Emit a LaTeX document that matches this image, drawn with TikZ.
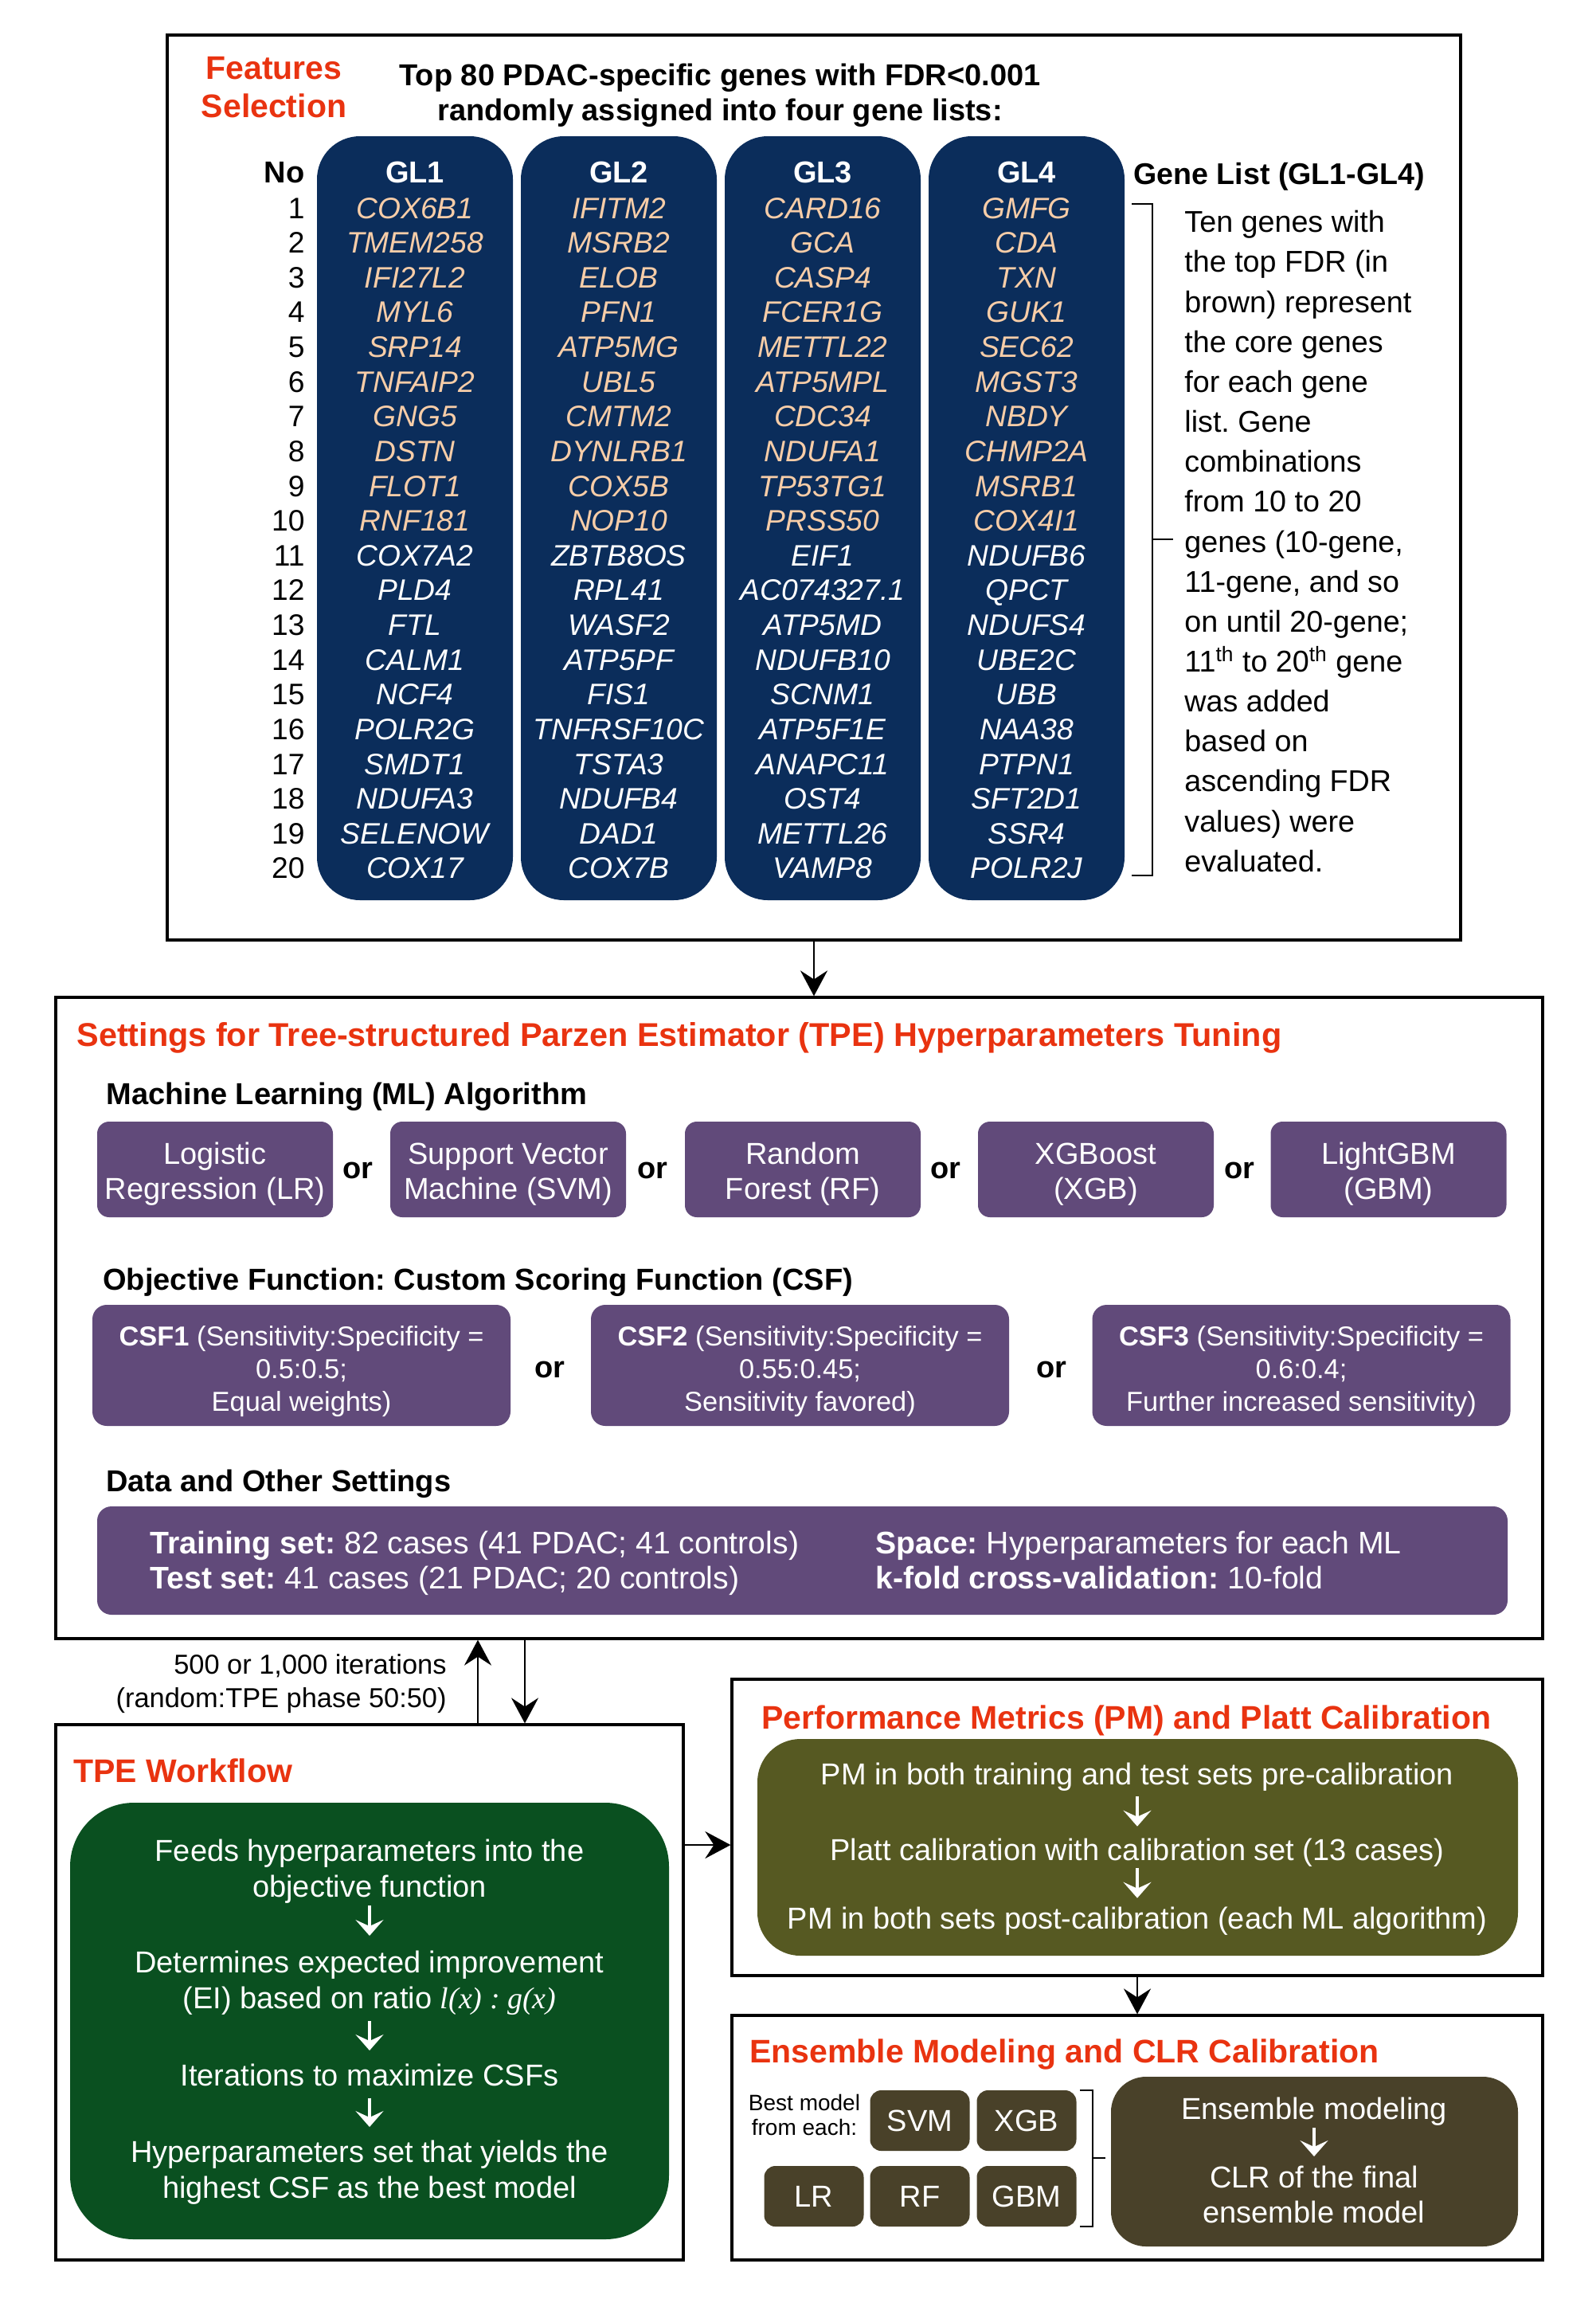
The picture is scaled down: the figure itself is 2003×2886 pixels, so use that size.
\documentclass[tikz,border=0pt]{standalone}
\usepackage{fontspec}
\setmainfont{Liberation Sans}
\newfontfamily\timesfont{Liberation Serif}
\usetikzlibrary{arrows.meta}

\newcommand{\setfs}[2]{\fontsize{#1}{#2}\selectfont}
% invisible struts that lower the text block inside the purple boxes
\newcommand{\mlstrut}{\rule{0pt}{19.4pt}}
\newcommand{\csfstrut}{\rule{0pt}{19.9pt}}

\definecolor{colnavy}{RGB}{11,45,91}
\definecolor{corepeach}{RGB}{247,205,168}
\definecolor{titlered}{RGB}{233,51,16}
\definecolor{mlpurple}{RGB}{97,74,122}
\definecolor{tpegreen}{RGB}{10,80,32}
\definecolor{pmolive}{RGB}{86,89,34}
\definecolor{ensbrown}{RGB}{73,65,41}

\tikzset{
  frame/.style={draw=black, line width=1.6pt, inner sep=0pt},
  conn/.style={draw=black, line width=1.4pt, -{Stealth[length=16pt,width=17pt,inset=5.5pt]}},
  wconn/.style={draw=white, line width=2pt, -{Stealth[length=10pt,width=17.5pt,inset=4pt]}},
  bracket/.style={draw=black, line width=1.3pt},
  redtitle/.style={text=titlered, font=\bfseries\setfs{20.5}{24}, inner sep=0pt},
  heading/.style={text=black, font=\bfseries\setfs{19}{22}, inner sep=0pt, anchor=base west},
  genecol/.style={fill=colnavy, rounded corners=27pt, minimum width=123pt, minimum height=479.5pt, inner sep=0pt},
  gene/.style={font=\itshape\setfs{18.6}{20}, inner sep=0pt, anchor=base},
  glhead/.style={text=white, font=\bfseries\setfs{19}{22}, inner sep=0pt, anchor=base},
  rownum/.style={font=\setfs{18.6}{20}, inner sep=0pt, anchor=base east},
  mlbox/.style={fill=mlpurple, rounded corners=7.5pt, minimum width=148pt, minimum height=60pt, text=white, align=center, font=\setfs{19}{22}, inner sep=0pt},
  orlabel/.style={font=\bfseries\setfs{19}{22}, inner sep=0pt},
  csfbox/.style={fill=mlpurple, rounded corners=9pt, minimum width=262.5pt, minimum height=76pt, text=white, align=center, font=\setfs{17.2}{20.5}, inner sep=0pt},
  databox/.style={fill=mlpurple, rounded corners=9pt, minimum width=885.5pt, minimum height=68pt, inner sep=0pt},
  datatext/.style={text=white, font=\setfs{19.6}{22}, inner sep=0pt, anchor=base west},
  flowtext/.style={text=white, align=center, font=\setfs{19}{22.5}, inner sep=0pt},
  smallbox/.style={fill=ensbrown, rounded corners=7pt, minimum width=62.5pt, minimum height=38pt, text=white, font=\setfs{19}{22}, inner sep=0pt},
}

% one column of twenty genes; the first ten (core genes) in peach
\newcommand{\genecolumn}[3]{%
  \foreach \g [count=\i] in {#3} {%
    \ifnum\i<11 \def\gc{corepeach}\else\def\gc{white}\fi
    \node[gene, text=\gc] (#1-\i) at (#2,{274+(\i-1)*43.63}) {\g};
  }%
}

\begin{document}
\frenchspacing
\begin{tikzpicture}[x=0.5pt,y=-0.5pt]
\fill[white] (0,0) rectangle (2003,2886);
\useasboundingbox (0,0) rectangle (2003,2886);

% ---------------- Features selection ----------------
\node[frame, minimum width=812pt, minimum height=568pt] (topbox) at (1022,612) {};
\node[redtitle, anchor=north, align=center] (fsel) at (344,71) {Features\\Selection};
\node[anchor=north, align=center, font=\bfseries\setfs{19}{22}, inner sep=0pt] (toptitle) at (904,80)
  {Top 80 PDAC-specific genes with FDR<0.001\\randomly assigned into four gene lists:};

\node[genecol] (col1) at (521,650.5) {};
\node[genecol] (col2) at (777,650.5) {};
\node[genecol] (col3) at (1033,650.5) {};
\node[genecol] (col4) at (1289,650.5) {};

\node[font=\bfseries\setfs{19}{22}, inner sep=0pt, anchor=base east] (nohead) at (383,229) {No};
\node[glhead] (h1) at (521,229) {GL1};
\node[glhead] (h2) at (777,229) {GL2};
\node[glhead] (h3) at (1033,229) {GL3};
\node[glhead] (h4) at (1289,229) {GL4};

\foreach \i in {1,...,20} \node[rownum] (n\i) at (383,{274+(\i-1)*43.63}) {\i};

\genecolumn{GLa}{521}{COX6B1,TMEM258,IFI27L2,MYL6,SRP14,TNFAIP2,GNG5,DSTN,FLOT1,RNF181,COX7A2,PLD4,FTL,CALM1,NCF4,POLR2G,SMDT1,NDUFA3,SELENOW,COX17}
\genecolumn{GLb}{777}{IFITM2,MSRB2,ELOB,PFN1,ATP5MG,UBL5,CMTM2,DYNLRB1,COX5B,NOP10,ZBTB8OS,RPL41,WASF2,ATP5PF,FIS1,TNFRSF10C,TSTA3,NDUFB4,DAD1,COX7B}
\genecolumn{GLc}{1033}{CARD16,GCA,CASP4,FCER1G,METTL22,ATP5MPL,CDC34,NDUFA1,TP53TG1,PRSS50,EIF1,AC074327.1,ATP5MD,NDUFB10,SCNM1,ATP5F1E,ANAPC11,OST4,METTL26,VAMP8}
\genecolumn{GLd}{1289}{GMFG,CDA,TXN,GUK1,SEC62,MGST3,NBDY,CHMP2A,MSRB1,COX4I1,NDUFB6,QPCT,NDUFS4,UBE2C,UBB,NAA38,PTPN1,SFT2D1,SSR4,POLR2J}

\node[font=\bfseries\setfs{18.8}{22}, inner sep=0pt, anchor=base west] (gllabel) at (1423,231) {Gene List (GL1-GL4)};
\draw[bracket] (1421,256) -- (1447,256) -- (1447,1099) -- (1421,1099);
\draw[bracket] (1447,677) -- (1473,677);
\node[anchor=north west, align=left, font=\setfs{18.85}{25.08}, inner sep=0pt] (notes) at (1487,264)
  {Ten genes with\\the top FDR (in\\brown) represent\\the core genes\\for each gene\\list. Gene\\combinations\\from 10 to 20\\genes (10-gene,\\11-gene, and so\\on until 20-gene;\\11\textsuperscript{th} to 20\textsuperscript{th} gene\\was added\\based on\\ascending FDR\\values) were\\evaluated.};

% ---------------- TPE settings ----------------
\node[frame, minimum width=933.5pt, minimum height=402.5pt] (setbox) at (1003.5,1654.5) {};
\draw[conn] (topbox.south) -- (topbox.south |- setbox.north);

\node[redtitle, font=\bfseries\setfs{20.7}{24}, anchor=base west] (settitle) at (96,1313)
  {Settings for Tree-structured Parzen Estimator (TPE) Hyperparameters Tuning};
\node[heading] (mlhead) at (133,1386) {Machine Learning (ML) Algorithm};

\node[mlbox] (mlLR) at (270,1468) {\mlstrut Logistic\\Regression (LR)};
\node[mlbox] (mlSVM) at (638,1468) {\mlstrut Support Vector\\Machine (SVM)};
\node[mlbox] (mlRF) at (1008,1468) {\mlstrut Random\\Forest (RF)};
\node[mlbox] (mlXGB) at (1376,1468) {\mlstrut XGBoost\\(XGB)};
\node[mlbox] (mlGBM) at (1743.5,1468) {\mlstrut LightGBM\\(GBM)};
\node[orlabel] (or1) at (449,1469) {or};
\node[orlabel] (or2) at (819,1469) {or};
\node[orlabel] (or3) at (1187,1469) {or};
\node[orlabel] (or4) at (1556,1469) {or};

\node[heading] (objhead) at (129,1619) {Objective Function: Custom Scoring Function (CSF)};
\node[csfbox] (csf1) at (378.5,1714) {\csfstrut\textbf{CSF1} (Sensitivity:Specificity =\\0.5:0.5;\\Equal weights)};
\node[csfbox] (csf2) at (1004.5,1714) {\csfstrut\textbf{CSF2} (Sensitivity:Specificity =\\0.55:0.45;\\Sensitivity favored)};
\node[csfbox] (csf3) at (1634,1714) {\csfstrut\textbf{CSF3} (Sensitivity:Specificity =\\0.6:0.4;\\Further increased sensitivity)};
\node[orlabel] (or5) at (690,1719) {or};
\node[orlabel] (or6) at (1320,1719) {or};

\node[heading] (datahead) at (133,1872) {Data and Other Settings};
\node[databox] (data) at (1007.5,1959) {};
\node[datatext] (dtrain) at (188,1950) {\textbf{Training set:} 82 cases (41 PDAC; 41 controls)};
\node[datatext] (dtest) at (188,1994) {\textbf{Test set:} 41 cases (21 PDAC; 20 controls)};
\node[datatext] (dspace) at (1099,1950) {\textbf{Space:} Hyperparameters for each ML};
\node[datatext] (dkfold) at (1099,1994) {\textbf{k-fold cross-validation:} 10-fold};

% ---------------- TPE workflow ----------------
\node[frame, minimum width=394pt, minimum height=336pt] (tpebox) at (464,2501) {};
\coordinate (upx) at (600,2100);
\coordinate (downx) at (659,2100);
\draw[conn] (upx |- tpebox.north) -- (upx |- setbox.south);
\draw[conn] (downx |- setbox.south) -- (downx |- tpebox.north);
\node[anchor=north east, align=right, font=\setfs{17.2}{21}, inner sep=0pt] (iters) at (561,2076)
  {500 or 1,000 iterations\\(random:TPE phase 50:50)};

\node[redtitle, anchor=base west] (tpetitle) at (92,2237) {TPE Workflow};
\node[fill=tpegreen, rounded corners=40pt, minimum width=376pt, minimum height=274pt, inner sep=0pt] (green) at (464,2537) {};
\node[flowtext, anchor=north] (tp1) at (464,2309) {Feeds hyperparameters into the\\objective function};
\node[flowtext, anchor=north] (tp2) at (464,2449) {Determines expected improvement\\(EI) based on ratio {\timesfont\itshape l(x) : g(x)}};
\node[flowtext, anchor=north] (tp3) at (464,2591) {Iterations to maximize CSFs};
\node[flowtext, anchor=north] (tp4) at (464,2687) {Hyperparameters set that yields the\\highest CSF as the best model};
\draw[wconn, shorten <=1pt, shorten >=9.5pt] (tp1.south) -- (tp2.north);
\draw[wconn, shorten <=3.5pt, shorten >=8.5pt] (tp2.south) -- (tp3.north);
\draw[wconn, shorten <=7pt, shorten >=8.5pt] (tp3.south) -- (tp4.north);

% ---------------- Performance metrics ----------------
\node[frame, minimum width=509pt, minimum height=186pt] (pmbox) at (1428,2294) {};
\coordinate (hy) at (900,2316);
\draw[conn] (tpebox.east |- hy) -- (pmbox.west |- hy);
\node[redtitle, anchor=base west] (pmtitle) at (956,2170) {Performance Metrics (PM) and Platt Calibration};
\node[fill=pmolive, rounded corners=27pt, minimum width=477.5pt, minimum height=136pt, inner sep=0pt] (olive) at (1428.5,2319) {};
\node[flowtext, anchor=base] (p1) at (1428,2240.6) {PM in both training and test sets pre-calibration};
\node[flowtext, anchor=base] (p2) at (1428,2335.6) {Platt calibration with calibration set (13 cases)};
\node[flowtext, anchor=base] (p3) at (1428,2421.6) {PM in both sets post-calibration (each ML algorithm)};
\draw[wconn, shorten <=3pt, shorten >=7.5pt] (p1.south) -- (p2.north);
\draw[wconn, shorten <=0.5pt, shorten >=5.5pt] (p2.south) -- (p3.north);

% ---------------- Ensemble modeling ----------------
\node[frame, minimum width=509pt, minimum height=153.5pt] (ensbox) at (1428,2683.5) {};
\draw[conn] (pmbox.south) -- (ensbox.north);
\node[redtitle, anchor=base west] (enstitle) at (941,2589) {Ensemble Modeling and CLR Calibration};
\node[align=center, font=\setfs{14}{15.5}, inner sep=0pt] (bestlbl) at (1010,2655) {Best model\\from each:};
\node[smallbox] (sSVM) at (1155,2662) {SVM};
\node[smallbox] (sXGB) at (1289,2662) {XGB};
\node[smallbox] (sLR) at (1022,2757) {LR};
\node[smallbox] (sRF) at (1155,2757) {RF};
\node[smallbox] (sGBM) at (1289,2757) {GBM};
\draw[bracket] (1356,2624) -- (1372,2624) -- (1372,2795) -- (1356,2795);
\draw[bracket] (1372,2709) -- (1388,2709);
\node[fill=ensbrown, rounded corners=22pt, minimum width=255.5pt, minimum height=106.5pt, inner sep=0pt] (ensfinal) at (1650.5,2713.5) {};
\node[flowtext, font=\setfs{19}{22}, anchor=base] (e1) at (1650,2660.6) {Ensemble modeling};
\node[flowtext, font=\setfs{19}{22}, anchor=north] (e2) at (1650,2719) {CLR of the final\\ensemble model};
\draw[wconn, shorten <=1pt, shorten >=6pt] (e1.south) -- (e2.north);

\end{tikzpicture}
\end{document}
